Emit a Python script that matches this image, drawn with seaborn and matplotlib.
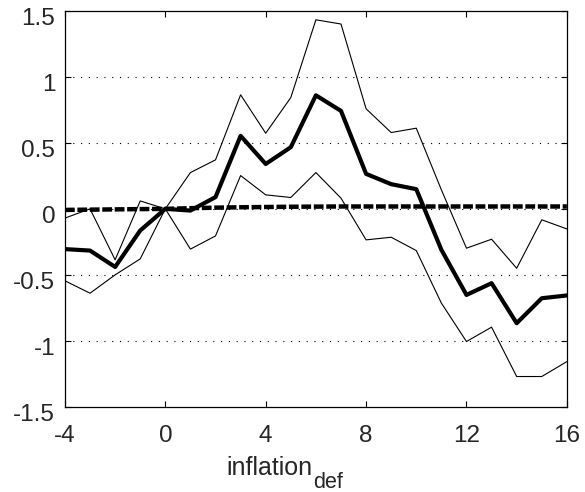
"""Impulse response of inflation_def with error bands, MATLAB-like look."""

import matplotlib
matplotlib.use("Agg")
import matplotlib.pyplot as plt
import matplotlib.transforms as mtransforms
import numpy as np
import pandas as pd
import seaborn as sns

# ---------------------------------------------------------------------------
# Data
# ---------------------------------------------------------------------------
horizon = list(range(-4, 17))

response = [-0.305, -0.316, -0.44, -0.164, 0.0, -0.013, 0.089, 0.553, 0.34, 0.467,
            0.86, 0.742, 0.265, 0.187, 0.149, -0.31, -0.652, -0.563, -0.866, -0.677, -0.656]

upper_band = [-0.07, 0.0, -0.386, 0.06, 0.0, 0.275, 0.371, 0.864, 0.573, 0.843,
              1.432, 1.40, 0.758, 0.578, 0.611, 0.144, -0.298, -0.23, -0.45, -0.083, -0.152]

lower_band = [-0.545, -0.639, -0.5, -0.379, 0.0, -0.305, -0.205, 0.252, 0.106, 0.086,
              0.275, 0.081, -0.235, -0.215, -0.316, -0.714, -1.005, -0.896, -1.27, -1.27, -1.157]

baseline = [-0.008, -0.006, -0.004, -0.002, 0.0, 0.005, 0.009, 0.012, 0.014, 0.016,
            0.017, 0.018, 0.018, 0.018, 0.018, 0.018, 0.018, 0.018, 0.018, 0.018, 0.018]

x_ticks = [-4, 0, 4, 8, 12, 16]
y_ticks = [-1.5, -1, -0.5, 0, 0.5, 1, 1.5]
y_tick_labels = ["-1.5", "-1", "-0.5", "0", "0.5", "1", "1.5"]

df = pd.DataFrame({
    "h": horizon,
    "response": response,
    "upper": upper_band,
    "lower": lower_band,
    "baseline": baseline,
})

# ---------------------------------------------------------------------------
# Style
# ---------------------------------------------------------------------------
sns.set_theme(style="white")
plt.rcParams["font.family"] = ["Liberation Sans", "DejaVu Sans"]
plt.rcParams.update({
    "xtick.direction": "in",
    "ytick.direction": "in",
    "axes.edgecolor": "black",
    "axes.linewidth": 0.9,
})

fig = plt.figure(figsize=(5.85, 4.92), dpi=100)
ax = fig.add_axes([0.111, 0.173, 0.858, 0.805])

# horizontal dotted grid only
for yv in y_ticks[1:-1]:
    ax.axhline(yv, color="black", linewidth=0.8, linestyle=(0, (1, 6)), zorder=0)

sns.lineplot(data=df, x="h", y="upper", ax=ax, color="black", linewidth=0.8)
sns.lineplot(data=df, x="h", y="lower", ax=ax, color="black", linewidth=0.8)
sns.lineplot(data=df, x="h", y="response", ax=ax, color="black", linewidth=3.0)
sns.lineplot(data=df, x="h", y="baseline", ax=ax, color="black", linewidth=3.2,
             linestyle=(0, (2.2, 0.6)))

ax.set_xlim(-4, 16)
ax.set_ylim(-1.5, 1.5)
ax.set_xticks(x_ticks)
ax.set_xticklabels([str(t) for t in x_ticks])
ax.set_yticks(y_ticks)
ax.set_yticklabels(y_tick_labels)
ax.tick_params(axis="both", labelsize=17.5, length=4, width=0.8, color="black",
               top=True, right=True, bottom=True, left=True)
ax.tick_params(axis="x", pad=13)
ax.tick_params(axis="y", pad=7)

# MATLAB puts the y tick labels a bit below the tick
offset = mtransforms.ScaledTranslation(0, -6 / 100, fig.dpi_scale_trans)
for lbl in ax.get_yticklabels():
    lbl.set_transform(lbl.get_transform() + offset)

for spine in ax.spines.values():
    spine.set_visible(True)
    spine.set_color("black")

ax.set_xlabel("")
ax.set_ylabel("")
ax.text(0.494, -0.172, "inflation", transform=ax.transAxes, ha="right",
        va="baseline", fontsize=18)
ax.text(0.494, -0.204, "def", transform=ax.transAxes, ha="left",
        va="baseline", fontsize=15.5)

fig.savefig("out.png", dpi=100)
